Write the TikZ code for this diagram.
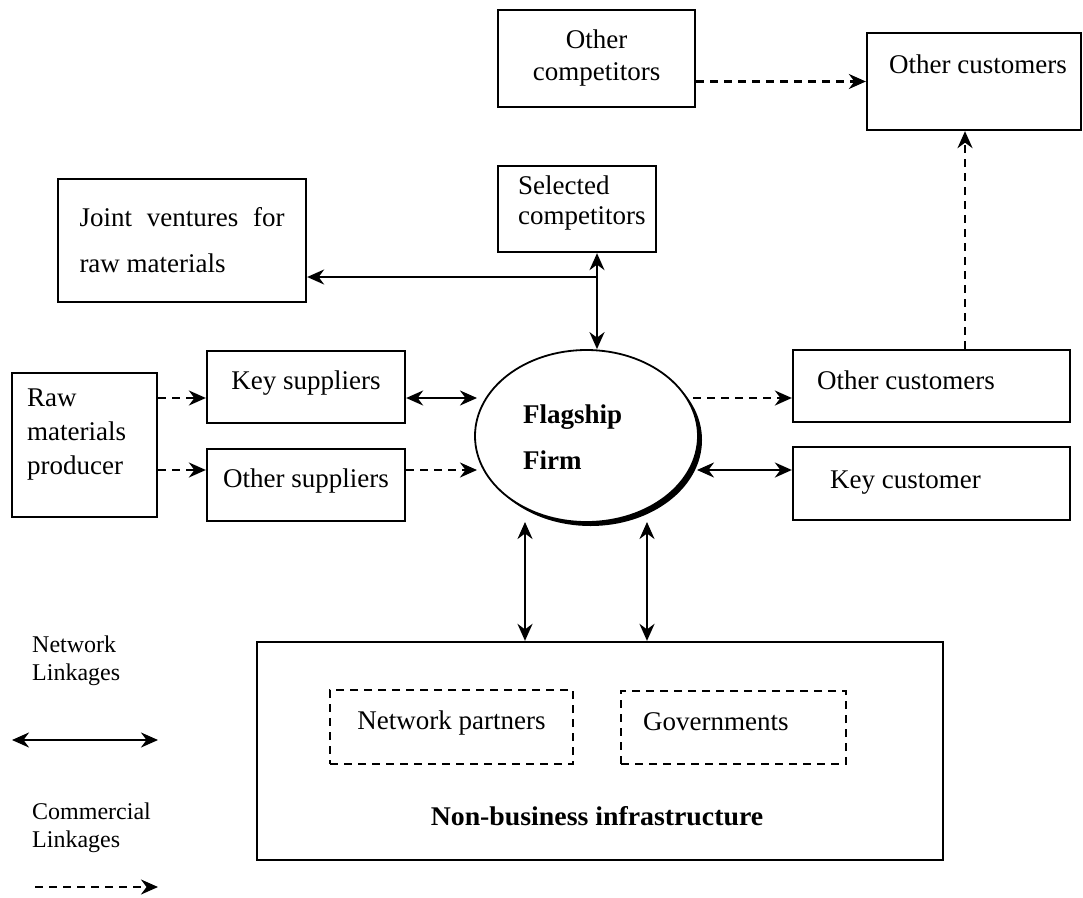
\documentclass[tikz,border=0pt]{standalone}
\usepackage{fontspec}
\setmainfont{Liberation Serif}
\usetikzlibrary{arrows.meta,shapes.geometric,calc}
\begin{document}
\begin{tikzpicture}[x=1pt,y=-1pt,
  every node/.style={inner sep=0pt, font=\fontsize{27}{32}\selectfont},
  box/.style={draw, line width=2.3pt, rectangle},
  dbox/.style={draw, line width=2.3pt, rectangle, dash pattern=on 8pt off 6pt},
  txt/.style={text height=0.7em, text depth=0.25em},
  tip/.tip={Stealth[length=17pt,width=15pt]},
  net/.style={line width=2.3pt, {tip}-{tip}},
  comm/.style={line width=2.3pt, dash pattern=on 8pt off 6pt, -{tip}},
  solid1/.style={line width=2.3pt, -{tip}},
  legend/.style={font=\fontsize{24}{28}\selectfont, align=left, anchor=west}
]
\useasboundingbox (0,0) rectangle (1083,897);

% boxes
\node[box, minimum width=197pt, minimum height=97pt, align=center] (ocomp) at (596.5,58.5) {Other\\competitors};
\node[box, minimum width=214pt, minimum height=97pt] (ocust1) at (974,81.5) {};
\node[txt, anchor=west] (ocust1t) at (889,71) {Other customers};

\node[box, minimum width=158pt, minimum height=86pt] (sel) at (577,209) {};
\node[anchor=west, align=left, font=\fontsize{27}{30}\selectfont] (selt) at (518,203) {Selected\\competitors};

\node[box, minimum width=248pt, minimum height=123pt, text width=205pt, align=justify, font=\fontsize{27}{46}\selectfont] (joint) at (182,240.5) {Joint ventures for raw materials};

\node[box, minimum width=145pt, minimum height=144pt] (raw) at (84.5,445) {};
\node[anchor=west, align=left, font=\fontsize{27}{34}\selectfont] (rawt) at (27,435) {Raw\\materials\\producer};

\node[box, minimum width=198pt, minimum height=72pt, txt] (ksup) at (306,387) {Key suppliers};
\node[box, minimum width=198pt, minimum height=72pt, txt] (osup) at (306,485) {Other suppliers};

\node[box, minimum width=277pt, minimum height=72pt] (ocust2) at (931.5,386) {};
\node[txt, anchor=west] (ocust2t) at (817,387) {Other customers};
\node[box, minimum width=277pt, minimum height=73pt] (kcust) at (931.5,483.5) {};
\node[txt, anchor=west] (kcustt) at (830,486) {Key customer};

% flagship ellipse with shadow
\fill (590.5,440) ellipse [x radius=111.5pt, y radius=86pt];
\node[ellipse, draw, line width=1.8pt, fill=white, minimum width=223pt, minimum height=172pt] (flag) at (586.5,436) {};
\node[anchor=west, align=left, font=\fontsize{27}{46}\bfseries\selectfont] (flagt) at (523,437) {Flagship\\Firm};

% infrastructure
\node[box, minimum width=686pt, minimum height=218pt] (infra) at (600,751) {};
\node[dbox, minimum width=243pt, minimum height=74pt, txt] (netp) at (451.5,727) {Network partners};
\node[dbox, minimum width=225pt, minimum height=73pt] (gov) at (733.5,727.5) {};
\node[txt, anchor=west] (govt) at (643,728) {Governments};
\node[txt, font=\fontsize{27}{32}\bfseries\selectfont] (infrat) at (597,823) {\scalebox{1.03}[1]{Non-business infrastructure}};

% legend
\node[legend] (leg1) at (32,661) {Network\\Linkages};
\node[legend] (leg2) at (32,828) {Commercial\\Linkages};
\coordinate (la1) at (12,740);
\coordinate (la2) at (158,740);
\coordinate (lb1) at (35,887);
\coordinate (lb2) at (158,887);
\draw[net] (la1) -- (la2);
\draw[comm] (lb1) -- (lb2);

% helper coordinates
\coordinate (xs) at (597,0);
\coordinate (jy) at (0,277);
\coordinate (y1) at (0,398);
\coordinate (y2) at (0,470);
\coordinate (fl1) at (477,398);
\coordinate (fl2) at (477,470);
\coordinate (fr1) at (693,398);
\coordinate (fr2) at (697,470);
\coordinate (xc) at (965,0);
\coordinate (fb1) at (525,522);
\coordinate (fb2) at (647,522);

% connectors
\draw[comm] (ocomp.east |- ocust1.west) -- (ocust1.west);
\draw[net] (sel.south -| xs) -- (flag.north -| xs);
\draw[solid1] (xs |- jy) -- (joint.east |- jy);
\draw[comm] (raw.east |- y1) -- (ksup.west |- y1);
\draw[comm] (raw.east |- y2) -- (osup.west |- y2);
\draw[net] (ksup.east |- y1) -- (fl1);
\draw[comm] (osup.east |- y2) -- (fl2);
\draw[comm] (fr1) -- (ocust2.west |- y1);
\draw[net] (fr2) -- (kcust.west |- y2);
\draw[comm] (ocust2.north -| xc) -- (ocust1.south -| xc);
\draw[net] (fb1) -- (infra.north -| fb1);
\draw[net] (fb2) -- (infra.north -| fb2);
\end{tikzpicture}
\end{document}
